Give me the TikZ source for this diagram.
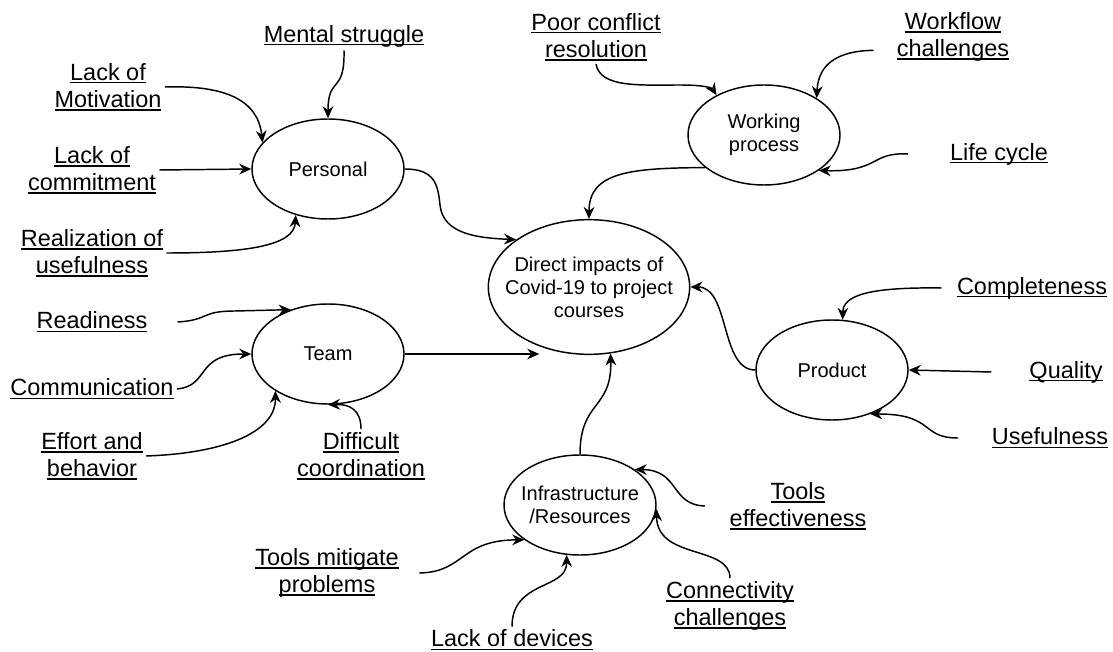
\documentclass[tikz,border=0pt]{standalone}
\usepackage{fontspec}
\setmainfont{Liberation Sans}
\usetikzlibrary{
shapes.geometric,
arrows.meta
}

% underlined label text
\newcommand{\uln}[1]{\setbox0\hbox{#1}\rlap{\rule[-2.3pt]{\wd0}{0.9pt}}\box0}

\begin{document}
\begin{tikzpicture}[x=0.75pt,y=-0.75pt,line width=1.1pt,
  >={Stealth[length=9pt,width=8pt]},
  hub/.style={ellipse,draw,minimum width=114pt,minimum height=75pt,
    inner xsep=-12pt,inner ysep=0pt,align=center,
    font=\fontsize{15}{17.3}\selectfont},
  lbl/.style={align=center,inner sep=2pt,
    font=\fontsize{17.6}{20.3}\selectfont}]

\useasboundingbox (0,0) rectangle (1113,652);

% Ellipses
\node[hub,minimum width=151pt,minimum height=101pt] (cen) at (589,287)
  {Direct impacts of\\Covid-19 to project\\courses};
\node[hub] (pers) at (328,169) {Personal};
\node[hub] (wp) at (764,135) {Working\\process};
\node[hub] (team) at (328,354) {Team};
\node[hub] (prod) at (832,370) {Product};
\node[hub] (infra) at (580,505) {Infrastructure\\/Resources};

% Labels
\node[lbl] (ms) at (344,36) {\uln{Mental struggle}};
\node[lbl] (lm) at (108,87) {\uln{Lack of}\\\uln{Motivation}};
\node[lbl] (lc) at (92,170) {\uln{Lack of}\\\uln{commitment}};
\node[lbl] (ru) at (92,253) {\uln{Realization of}\\\uln{usefulness}};
\node[lbl] (rd) at (92,322) {\uln{Readiness}};
\node[lbl] (cm) at (92,389) {\uln{Communication}};
\node[lbl] (eb) at (92,456) {\uln{Effort and}\\\uln{behavior}};
\node[lbl] (dc) at (361,456) {\uln{Difficult}\\\uln{coordination}};
\node[lbl] (pc) at (596,37) {\uln{Poor conflict}\\\uln{resolution}};
\node[lbl] (wc) at (953,37) {\uln{Workflow}\\\uln{challenges}};
\node[lbl] (lcy) at (999,154) {\uln{Life cycle}};
\node[lbl] (cp) at (1032,288) {\uln{Completeness}};
\node[lbl] (ql) at (1066,372) {\uln{Quality}};
\node[lbl] (uf) at (1050,438) {\uln{Usefulness}};
\node[lbl] (te) at (798,506) {\uln{Tools}\\\uln{effectiveness}};
\node[lbl] (cc) at (730,606) {\uln{Connectivity}\\\uln{challenges}};
\node[lbl] (tm) at (327,573) {\uln{Tools mitigate}\\\uln{problems}};
\node[lbl] (ld) at (512,640) {\uln{Lack of devices}};

% Personal
\draw[->] (ms.south) .. controls (345,95) and (328,75) .. (pers.north);
\draw[->] (lm.east) .. controls (225,85) and (258,100) .. (pers.158);
\draw[->] (lc.east) -- (pers.west);
\draw[->] (ru.east) .. controls (250,253) and (294,245) .. (pers.235);

% Working process
\draw[->] (pc.south) .. controls (600,88) and (640,85) .. (680,85)
  .. controls (705,85) and (712,88) .. (wp.140);
\draw[->] ([xshift=-15pt,yshift=-10pt]wc.west) .. controls (830,51) and (818,70) .. (wp.35);
\draw[->] ([xshift=-29pt]lcy.west) .. controls (870,152) and (880,172) .. (wp.-33);

% Product
\draw[->] ([xshift=-9pt]cp.west) .. controls (870,287) and (843,295) .. (prod.78);
\draw[->] ([xshift=-26pt]ql.west) -- (prod.east);
\draw[->] ([xshift=-23pt]uf.west) .. controls (920,438) and (935,414) .. (prod.-49);

% Team
\draw[->] ([xshift=20pt]rd.east) .. controls (210,320) and (200,311) .. (235,311) -- (team.130);
\draw[->] (cm.east) .. controls (210,386) and (195,354) .. (team.west);
\draw[->] (eb.east) .. controls (230,453) and (276,430) .. (team.215);
\draw[->] (dc.north) .. controls (361,410) and (350,404) .. (team.south);

% Infrastructure
\draw[->] ([xshift=-16pt]te.west) .. controls (670,505) and (680,470) .. (infra.33);
\draw[->] (cc.north) .. controls (730,545) and (657,560) .. (infra.-3);
\draw[->] ([xshift=13pt]tm.east) .. controls (465,572) and (460,540) .. (infra.212);
\draw[->] (ld.north) .. controls (512,580) and (567,590) .. (infra.255);

% Into the centre
\draw[->] (pers.east) .. controls (435,169) and (438,185) .. (440,205)
  .. controls (443,235) and (480,238) .. (cen.147);
\draw[->] (wp.209) .. controls (630,168) and (589,172) .. (cen.north);
\draw[->] (prod.west) .. controls (720,370) and (730,287) .. (cen.east);
\draw[->] (team.east) -- (cen.230 |- team.east);
\draw[->] (infra.north) .. controls (580,400) and (612,410) .. (cen.-72);

\end{tikzpicture}
\end{document}
